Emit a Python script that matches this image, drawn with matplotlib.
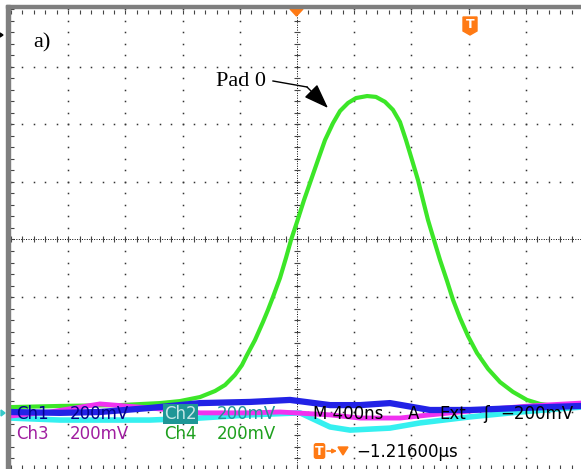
import numpy as np
import matplotlib
matplotlib.use("Agg")
import matplotlib.pyplot as plt
from matplotlib.patches import Rectangle, Polygon

# time in ns relative to screen centre, voltage in mV relative to centre
# 400 ns/div, 200 mV/div
ch4_t = [-2007, -1657, -1238, -958, -818, -678, -573, -503, -434, -385, -350, -294,
         -238, -203, -168, -119, -77, -42, 0, 49, 98, 147, 196, 252, 301, 357, 413,
         490, 552, 615, 671, 720, 762, 804, 846, 881, 916, 958, 1000, 1049, 1091,
         1140, 1196, 1259, 1336, 1420, 1510, 1608, 1699, 1804, 1986]
ch4_v = [-583, -579, -576, -569, -562, -548, -527, -506, -471, -437, -402, -350,
         -287, -245, -200, -134, -64, -2, 61, 137, 207, 277, 346, 405, 447, 475, 492,
         499, 496, 479, 451, 409, 346, 277, 207, 137, 68, -2, -71, -144, -210,
         -273, -336, -395, -450, -496, -530, -558, -572, -579, -579]

ch1_t = [-2007, -1657, -1378, -1029, -678, -329, -49, 231, 441, 650, 930, 1210, 1559, 1986]
ch1_v = [-600, -603, -600, -586, -569, -565, -558, -576, -576, -569, -593, -593, -586, -579]

ch3_t = [-2007, -1727, -1378, -1029, -678, -329, -119, 231, 441, 720, 930, 1280, 1629, 1986]
ch3_v = [-614, -600, -572, -586, -603, -603, -600, -610, -621, -621, -610, -593, -579, -569]

ch2_t = [-2007, -1657, -1029, -678, -329, 21, 231, 371, 650, 860, 1210, 1559, 1986]
ch2_v = [-621, -628, -628, -621, -610, -603, -652, -663, -656, -638, -617, -600, -583]

W, H = 581, 469
X0, XDIV = 297, 57.2
Y0, YDIV = 239.5, 57.5


def tx(px):
    return (px - X0) / XDIV * 400


def vy(py):
    return (Y0 - py) / YDIV * 200


fig = plt.figure(figsize=(W / 100, H / 100), dpi=100)
ax = fig.add_axes([0, 0, 1, 1])
ax.set_xlim(tx(0), tx(W))
ax.set_ylim(vy(H), vy(0))
ax.axis("off")

# graticule
dot = dict(ls="none", marker="s", ms=1.1, mec="none", color="#333333", zorder=1)
ydots = np.arange(-800, 801, 40)
xdots = np.arange(-2000, 2001, 80)
for k in range(-4, 5):
    if k != 0:
        ax.plot(np.full(len(ydots), k * 400), ydots, **dot)
for k in range(-3, 4):
    if k != 0:
        ax.plot(xdots, np.full(len(xdots), k * 200), **dot)
# centre crosshair
ax.plot([-2000, 2000], [0, 0], color="black", lw=0.7, ls=(0, (1, 1.5)), zorder=1)
ax.plot([0, 0], [-800, 800], color="black", lw=0.7, ls=(0, (1, 1.5)), zorder=1)
ax.plot(xdots, np.zeros(len(xdots)), ls="none", marker="|", ms=5, mew=0.8,
        color="#444444", zorder=1)
ax.plot(np.zeros(len(ydots)), ydots, ls="none", marker="_", ms=5, mew=0.8,
        color="#444444", zorder=1)
# edge ticks
ax.plot(xdots, np.full(len(xdots), 790), ls="none", marker="|", ms=3, mew=0.8,
        color="#444444", zorder=1)
ax.plot(xdots, np.full(len(xdots), -793), ls="none", marker="|", ms=3, mew=0.8,
        color="#444444", zorder=1)
ax.plot(np.full(len(ydots), tx(12)), ydots, ls="none", marker="_", ms=3, mew=0.8,
        color="#444444", zorder=1)

# traces
ax.plot(ch4_t, ch4_v, color="#3ce628", lw=3.0, zorder=3, solid_joinstyle="round")
ax.plot(ch2_t, ch2_v, color="#35f0f0", lw=4.0, zorder=4, solid_joinstyle="round")
ax.plot(ch3_t, ch3_v, color="#f032f0", lw=3.5, zorder=5, solid_joinstyle="round")
ax.plot(ch1_t, ch1_v, color="#2222e6", lw=4.5, zorder=6, solid_joinstyle="round")

# gray screen frame
fig.add_artist(Rectangle((6 / W, 1 - 8.5 / H), 1, 3.5 / H, transform=fig.transFigure,
                         color="#7f7f7f", zorder=10))
fig.add_artist(Rectangle((6 / W, 0), 4 / W, 1 - 5 / H, transform=fig.transFigure,
                         color="#7f7f7f", zorder=10))
# channel ground / reference markers at left edge
ax.add_patch(Polygon([(tx(1), vy(410)), (tx(1), vy(416)), (tx(5), vy(413))],
                     closed=True, color="#35c8c8", zorder=11))
ax.add_patch(Polygon([(tx(0), vy(33)), (tx(0), vy(37)), (tx(3), vy(35))],
                     closed=True, color="black", zorder=11))

# readout text
fs = 12
def label(px, py, s, color, **kw):
    ax.text(tx(px), vy(py), s, color=color, fontsize=fs, ha="left", va="center",
            family="DejaVu Sans", zorder=8, **kw)

label(16, 414, "Ch1", "#00008c")
label(70, 414, "200mV", "#00008c")
label(164, 414, "Ch2", "#c4e6e6",
      bbox=dict(boxstyle="square,pad=0.08", fc="#1e9696", ec="none"))
label(217, 414, "200mV", "#1e9696")
label(313, 414, "M 400ns", "black")
label(408, 414, "A", "black")
label(439, 414, "Ext", "black")
label(483, 414, "ʃ", "black")
label(500, 414, "−200mV", "black")
label(16, 434, "Ch3", "#a01ea0")
label(70, 434, "200mV", "#a01ea0")
label(164, 434, "Ch4", "#1ea01e")
label(217, 434, "200mV", "#1ea01e")
label(356, 452, "−1.21600μs", "black")

orange = "#ff7a14"
# bottom trigger readout icons
ax.text(tx(319.5), vy(451), "T", color="white", fontsize=9, fontweight="bold",
        ha="center", va="center", zorder=9,
        bbox=dict(boxstyle="round,pad=0.12,rounding_size=0.2", fc=orange, ec="none"))
ax.annotate("", xy=(tx(337), vy(451)), xytext=(tx(327), vy(451)),
            arrowprops=dict(arrowstyle="-|>", color=orange, lw=1.2,
                            mutation_scale=6, shrinkA=0, shrinkB=0), zorder=9)
ax.add_patch(Polygon([(tx(338), vy(447)), (tx(348), vy(447)), (tx(343), vy(455))],
                     closed=True, color=orange, zorder=9))

# top trigger markers
ax.add_patch(Polygon([(tx(290), vy(9)), (tx(303), vy(9)), (tx(296.5), vy(16))],
                     closed=True, color=orange, zorder=11))
ax.add_patch(Polygon([(tx(463), vy(17)), (tx(477), vy(17)), (tx(477), vy(31)),
                      (tx(470), vy(35)), (tx(463), vy(31))],
                     closed=True, color=orange, zorder=9))
ax.text(tx(470), vy(25), "T", color="white", fontsize=9, fontweight="bold",
        ha="center", va="center", zorder=10)

# annotations
ax.text(tx(33), vy(43), "a)", fontsize=16, family="Liberation Serif",
        ha="left", va="center", zorder=9)
ax.text(tx(266), vy(82), "Pad 0", fontsize=16, family="Liberation Serif",
        ha="right", va="center", zorder=9)
ax.plot([tx(273), tx(307)], [vy(81), vy(87)], color="black", lw=1.0, zorder=9)
ax.annotate("", xy=(tx(328), vy(108)), xytext=(tx(307), vy(87)),
            arrowprops=dict(arrowstyle="-|>,head_length=1.1,head_width=0.4",
                            color="black", lw=1.0, mutation_scale=14,
                            shrinkA=0, shrinkB=0), zorder=9)

fig.savefig("out.png", dpi=100, facecolor="white")
